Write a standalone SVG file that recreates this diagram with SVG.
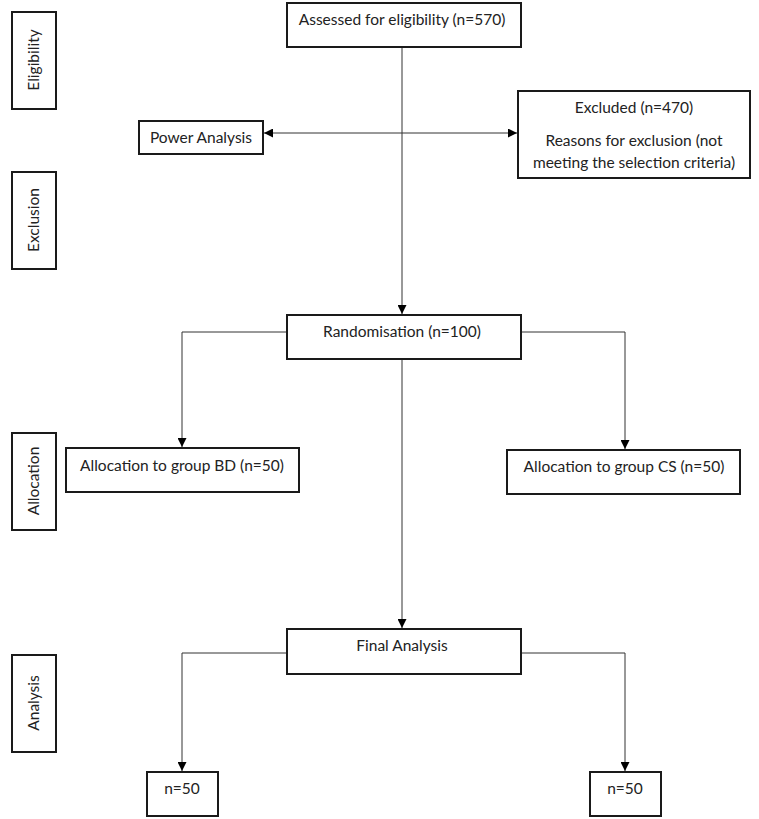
<svg xmlns="http://www.w3.org/2000/svg" width="759" height="819" viewBox="0 0 759 819">
<style>
.box{fill:#fff;stroke:#1a1a1a;stroke-width:2}
.t{font-family:Lato,"Open Sans","Liberation Sans",sans-serif;font-size:15.5px;fill:#222;text-anchor:middle}
.c{fill:none;stroke:#333;stroke-width:1}
</style>
<defs>
<marker id="ah" viewBox="0 0 10 10" refX="10" refY="5" markerWidth="9" markerHeight="9" markerUnits="userSpaceOnUse" orient="auto-start-reverse">
<path d="M0,0 L10,5 L0,10 z" fill="#000"/>
</marker>
</defs>
<rect width="759" height="819" fill="#fff"/>
<g id="connectors">
<path class="c" d="M402,47 V314" marker-end="url(#ah)"/>
<path class="c" d="M264,133 H517" marker-start="url(#ah)" marker-end="url(#ah)"/>
<path class="c" d="M287,332 H182 V447" marker-end="url(#ah)"/>
<path class="c" d="M521,332 H625 V449" marker-end="url(#ah)"/>
<path class="c" d="M402,360 V628" marker-end="url(#ah)"/>
<path class="c" d="M287,653 H182 V771" marker-end="url(#ah)"/>
<path class="c" d="M521,653 H625 V771" marker-end="url(#ah)"/>
</g>
<g id="stage-eligibility"><rect class="box" x="12" y="12" width="44" height="97"/><text class="t" transform="translate(39,60) rotate(-90)">Eligibility</text></g>
<g id="stage-exclusion"><rect class="box" x="12" y="172" width="44" height="97"/><text class="t" transform="translate(39,220) rotate(-90)">Exclusion</text></g>
<g id="stage-allocation"><rect class="box" x="12" y="433" width="44" height="97"/><text class="t" transform="translate(39,481) rotate(-90)">Allocation</text></g>
<g id="stage-analysis"><rect class="box" x="12" y="655" width="44" height="97"/><text class="t" transform="translate(39,703) rotate(-90)">Analysis</text></g>
<g id="assessed"><rect class="box" x="287" y="3" width="234" height="44"/><text class="t" x="402" y="25">Assessed for eligibility (n=570)</text></g>
<g id="power"><rect class="box" x="139" y="121" width="124" height="33"/><text class="t" x="201" y="143">Power Analysis</text></g>
<g id="excluded"><rect class="box" x="518" y="91" width="232" height="87"/><text class="t" x="634" y="113">Excluded (n=470)</text><text class="t" x="634" y="146">Reasons for exclusion (not</text><text class="t" x="634" y="168">meeting the selection criteria)</text></g>
<g id="randomisation"><rect class="box" x="287" y="315" width="234" height="44"/><text class="t" x="402" y="337">Randomisation (n=100)</text></g>
<g id="group-bd"><rect class="box" x="66" y="448" width="233" height="44"/><text class="t" x="182" y="471">Allocation to group BD (n=50)</text></g>
<g id="group-cs"><rect class="box" x="507" y="450" width="233" height="44"/><text class="t" x="624" y="472">Allocation to group CS (n=50)</text></g>
<g id="final"><rect class="box" x="287" y="629" width="234" height="45"/><text class="t" x="402" y="651">Final Analysis</text></g>
<g id="n-bd"><rect class="box" x="147" y="772" width="71" height="44"/><text class="t" x="182" y="794">n=50</text></g>
<g id="n-cs"><rect class="box" x="590" y="772" width="71" height="44"/><text class="t" x="625" y="794">n=50</text></g>
</svg>
